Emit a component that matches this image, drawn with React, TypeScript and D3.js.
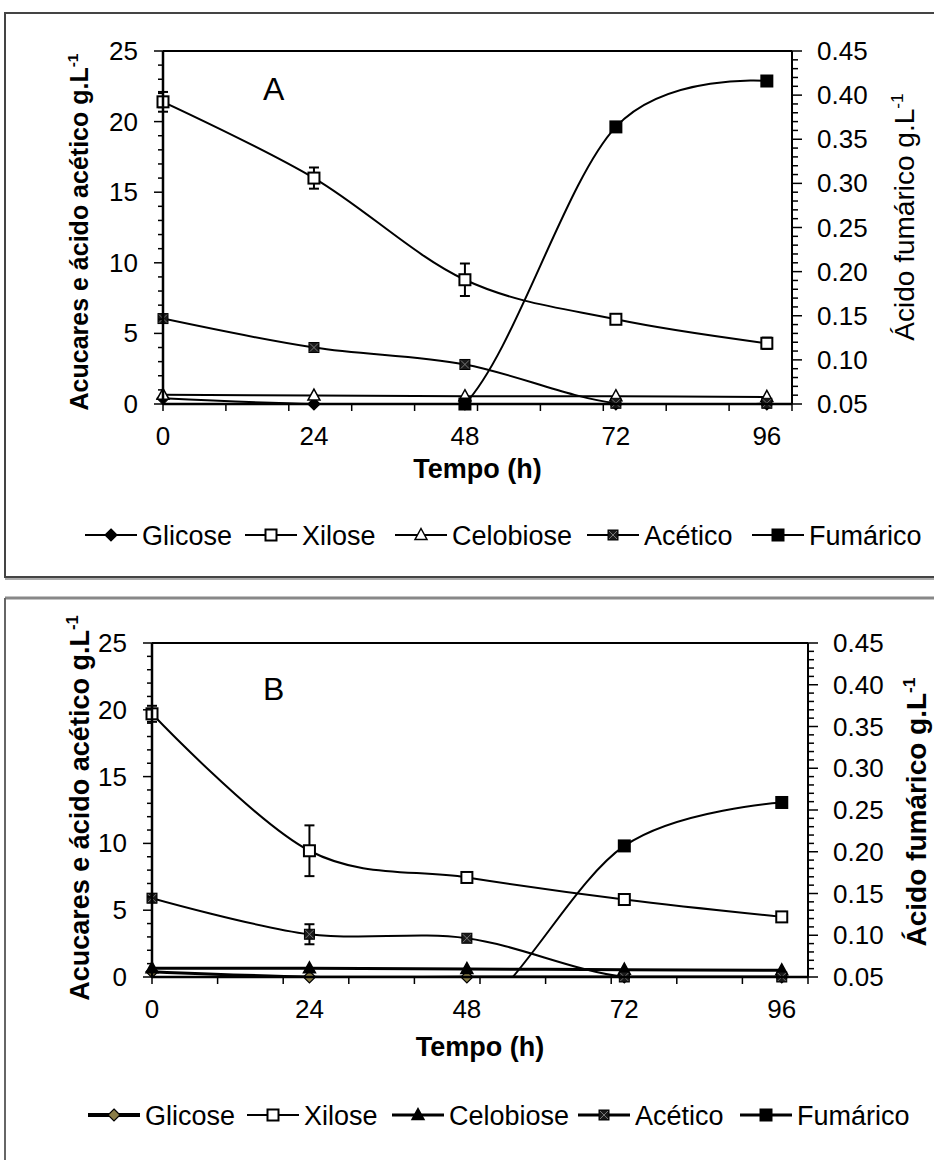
import React from 'react';
import * as d3 from 'd3';

// ---------- data ----------
const times = [0, 24, 48, 72, 96];
const xTickLabels = [0, 24, 48, 72, 96];
const leftTickLabels = [0, 5, 10, 15, 20, 25];
const rightTickLabels = [0.05, 0.1, 0.15, 0.2, 0.25, 0.3, 0.35, 0.4, 0.45];
const seriesNames = ['Glicose', 'Xilose', 'Celobiose', 'Acético', 'Fumárico'];

// Panel A
const glicoseA = [0.4, 0, 0, 0, 0];
const xiloseA = [21.4, 16.0, 8.8, 6.0, 4.3];
const xiloseErrA = [0.7, 0.75, 1.15, 0.2, 0.4];
const celobioseA = [0.65, 0.6, 0.55, 0.55, 0.5];
const aceticoA = [6.05, 4.0, 2.8, 0.05, 0.05];
const aceticoErrA = [0.2, 0.2, 0.3, 0, 0];
const fumaricoA = [0, 0, 0.05, 0.364, 0.416];

// Panel B
const glicoseB = [0.4, 0, 0, 0, 0];
const xiloseB = [19.7, 9.45, 7.45, 5.8, 4.5];
const xiloseErrB = [0.6, 1.9, 0.2, 0.3, 0.2];
const celobioseB = [0.65, 0.65, 0.6, 0.55, 0.5];
const aceticoB = [5.9, 3.2, 2.9, 0, 0];
const aceticoErrB = [0.3, 0.75, 0.2, 0, 0];
const fumaricoB = [0, 0, 0, 0.207, 0.259];

const FONT = '"Liberation Sans", Arial, Helvetica, sans-serif';

type Marker = 'diamond' | 'openSquare' | 'triangle' | 'xSquare' | 'bigSquare';
interface Series {
  name: string;
  values: number[];
  err?: number[];
  axis: 'L' | 'R';
  marker: Marker;
  fill: string;
  width: number;
  legendWidth: number;
}

function drawMarker(type: Marker, cx: number, cy: number, fill: string, key: string) {
  switch (type) {
    case 'diamond':
      return <path key={key} d={`M${cx},${cy - 6}L${cx + 6},${cy}L${cx},${cy + 6}L${cx - 6},${cy}Z`} fill={fill} stroke="#000" strokeWidth={1.2} />;
    case 'openSquare':
      return <rect key={key} x={cx - 5.5} y={cy - 5.5} width={11} height={11} fill="#fff" stroke="#000" strokeWidth={2} />;
    case 'triangle':
      return <path key={key} d={`M${cx},${cy - 6.5}L${cx + 6},${cy + 4.5}L${cx - 6},${cy + 4.5}Z`} fill={fill} stroke="#000" strokeWidth={1.5} />;
    case 'xSquare':
      return (
        <g key={key}>
          <rect x={cx - 5} y={cy - 5} width={10} height={10} fill="#1a1a1a" stroke="#000" strokeWidth={1} />
          <path d={`M${cx - 4},${cy - 4}L${cx + 4},${cy + 4}M${cx + 4},${cy - 4}L${cx - 4},${cy + 4}`} stroke="#777" strokeWidth={1} />
        </g>
      );
    case 'bigSquare':
      return <rect key={key} x={cx - 6.5} y={cy - 6.5} width={13} height={13} fill="#000" />;
  }
}

interface PanelCfg {
  id: string;
  left: number; right: number; top: number; bottom: number;
  letter: string; letterX: number; letterY: number;
  series: Series[];
  leftTitleX: number; leftTitleY: number; leftTitleSize: number;
  rightTitleX: number; rightTitleY: number; rightTitleSize: number; rightTitleBold: boolean;
  tempoY: number;
  legendY: number;
  legendX: number[];
}

function Panel({ cfg }: { cfg: PanelCfg }) {
  const x = d3.scaleLinear().domain([0, 100]).range([cfg.left, cfg.right]);
  const yL = d3.scaleLinear().domain([0, 25]).range([cfg.bottom, cfg.top]);
  const yR = d3.scaleLinear().domain([0.05, 0.45]).range([cfg.bottom, cfg.top]);
  const curve = d3.curveCatmullRom.alpha(0);
  const mkLine = (s: d3.ScaleLinear<number, number>) =>
    d3.line<number>().x((_, i) => x(times[i])).y((d) => s(d)).curve(curve);

  const xMinor = x.ticks(10);
  const yLMinor = d3.range(0, 26, 1);
  const yRMinor = d3.range(5, 46, 1).map((v) => v / 100);

  const clipId = `clip-${cfg.id}`;
  return (
    <g>
      <defs>
        <clipPath id={clipId}>
          <rect x={cfg.left} y={cfg.top} width={cfg.right - cfg.left} height={cfg.bottom - cfg.top + 1} />
        </clipPath>
      </defs>
      {/* plot top border */}
      <line x1={cfg.left} x2={cfg.right} y1={cfg.top} y2={cfg.top} stroke="#000" strokeWidth={2} />
      {/* series */}
      {cfg.series.map((s) => {
        const sc = s.axis === 'L' ? yL : yR;
        return (
          <g key={s.name}>
            <path d={mkLine(sc)(s.values) || ''} fill="none" stroke="#000" strokeWidth={s.width} clipPath={`url(#${clipId})`} />
            {s.err &&
              s.values.map((v, i) =>
                s.err![i] > 0 ? (
                  <g key={`e${i}`} stroke="#000" strokeWidth={2}>
                    <line x1={x(times[i])} x2={x(times[i])} y1={sc(v - s.err![i])} y2={sc(v + s.err![i])} />
                    <line x1={x(times[i]) - 5} x2={x(times[i]) + 5} y1={sc(v - s.err![i])} y2={sc(v - s.err![i])} />
                    <line x1={x(times[i]) - 5} x2={x(times[i]) + 5} y1={sc(v + s.err![i])} y2={sc(v + s.err![i])} />
                  </g>
                ) : null
              )}
            {s.values.map((v, i) =>
              v >= sc.domain()[0] - 1e-9 ? drawMarker(s.marker, x(times[i]), sc(v), s.fill, `m${i}`) : null
            )}
          </g>
        );
      })}
      {/* left axis */}
      <line x1={cfg.left} x2={cfg.left} y1={cfg.top} y2={cfg.bottom} stroke="#000" strokeWidth={2.5} />
      {yLMinor.map((v) => (
        <line key={`lm${v}`} x1={cfg.left - (v % 5 === 0 ? 9 : 5)} x2={cfg.left} y1={yL(v)} y2={yL(v)} stroke="#000" strokeWidth={1.5} />
      ))}
      {leftTickLabels.map((v) => (
        <text key={`lt${v}`} x={cfg.left - 25} y={yL(v) + 9} textAnchor="end" fontSize={26} fontFamily={FONT}>{v}</text>
      ))}
      {/* right axis */}
      <line x1={cfg.right} x2={cfg.right} y1={cfg.top} y2={cfg.bottom} stroke="#000" strokeWidth={2} />
      {yRMinor.map((v, i) => (
        <line key={`rm${i}`} x1={cfg.right} x2={cfg.right + (i % 5 === 0 ? 10 : 6)} y1={yR(v)} y2={yR(v)} stroke="#000" strokeWidth={1.5} />
      ))}
      {rightTickLabels.map((v) => (
        <text key={`rt${v}`} x={cfg.right + 25} y={yR(v) + 9} textAnchor="start" fontSize={26} fontFamily={FONT}>{d3.format('.2f')(v)}</text>
      ))}
      {/* bottom axis */}
      <line x1={cfg.left} x2={cfg.right} y1={cfg.bottom} y2={cfg.bottom} stroke="#000" strokeWidth={2.5} />
      {xMinor.map((v) => (
        <line key={`xm${v}`} x1={x(v)} x2={x(v)} y1={cfg.bottom} y2={cfg.bottom + 7} stroke="#000" strokeWidth={1.5} />
      ))}
      {xTickLabels.map((v) => (
        <text key={`xt${v}`} x={x(v)} y={cfg.bottom + 41} textAnchor="middle" fontSize={26} fontFamily={FONT}>{v}</text>
      ))}
      {/* letter */}
      <text x={cfg.letterX} y={cfg.letterY} fontSize={32} fontFamily={FONT}>{cfg.letter}</text>
      {/* titles */}
      <text transform={`translate(${cfg.leftTitleX},${cfg.leftTitleY}) rotate(-90)`} textAnchor="middle" fontSize={cfg.leftTitleSize} fontWeight="bold" fontFamily={FONT}>
        Acucares e ácido acético g.L<tspan fontSize={cfg.leftTitleSize * 0.62} dy={-cfg.leftTitleSize * 0.4}>-1</tspan>
      </text>
      <text transform={`translate(${cfg.rightTitleX},${cfg.rightTitleY}) rotate(-90)`} textAnchor="middle" fontSize={cfg.rightTitleSize} fontWeight={cfg.rightTitleBold ? 'bold' : 'normal'} fontFamily={FONT}>
        Ácido fumárico g.L<tspan fontSize={cfg.rightTitleSize * 0.62} dy={-cfg.rightTitleSize * 0.4}>-1</tspan>
      </text>
      <text x={(cfg.left + cfg.right) / 2} y={cfg.tempoY} textAnchor="middle" fontSize={27} fontWeight="bold" fontFamily={FONT}>Tempo (h)</text>
      {/* legend */}
      {cfg.series.map((s, i) => {
        const lx = cfg.legendX[i];
        return (
          <g key={`lg${i}`}>
            <line x1={lx} x2={lx + 52} y1={cfg.legendY} y2={cfg.legendY} stroke="#000" strokeWidth={s.legendWidth} />
            {drawMarker(s.marker, lx + 26, cfg.legendY, s.fill, 'lm')}
            <text x={lx + 57} y={cfg.legendY + 9.5} fontSize={27} fontFamily={FONT}>{s.name}</text>
          </g>
        );
      })}
    </g>
  );
}

const seriesA: Series[] = [
  { name: seriesNames[0], values: glicoseA, axis: 'L', marker: 'diamond', fill: '#000', width: 2, legendWidth: 2 },
  { name: seriesNames[1], values: xiloseA, err: xiloseErrA, axis: 'L', marker: 'openSquare', fill: '#fff', width: 2, legendWidth: 2 },
  { name: seriesNames[2], values: celobioseA, axis: 'L', marker: 'triangle', fill: '#fff', width: 2, legendWidth: 2 },
  { name: seriesNames[3], values: aceticoA, err: aceticoErrA, axis: 'L', marker: 'xSquare', fill: '#000', width: 2, legendWidth: 2 },
  { name: seriesNames[4], values: fumaricoA, axis: 'R', marker: 'bigSquare', fill: '#000', width: 2, legendWidth: 2 },
];
const seriesB: Series[] = [
  { name: seriesNames[0], values: glicoseB, axis: 'L', marker: 'diamond', fill: '#8a7d48', width: 3, legendWidth: 4 },
  { name: seriesNames[1], values: xiloseB, err: xiloseErrB, axis: 'L', marker: 'openSquare', fill: '#fff', width: 2, legendWidth: 2 },
  { name: seriesNames[2], values: celobioseB, axis: 'L', marker: 'triangle', fill: '#000', width: 3, legendWidth: 3 },
  { name: seriesNames[3], values: aceticoB, err: aceticoErrB, axis: 'L', marker: 'xSquare', fill: '#000', width: 2, legendWidth: 3 },
  { name: seriesNames[4], values: fumaricoB, axis: 'R', marker: 'bigSquare', fill: '#000', width: 2, legendWidth: 3 },
];

const cfgA: PanelCfg = {
  id: 'A', left: 163, right: 792, top: 51, bottom: 404,
  letter: 'A', letterX: 263, letterY: 100,
  series: seriesA,
  leftTitleX: 88, leftTitleY: 232, leftTitleSize: 25,
  rightTitleX: 914, rightTitleY: 217, rightTitleSize: 28, rightTitleBold: false,
  tempoY: 478, legendY: 535, legendX: [85, 245, 395, 587, 752],
};
const cfgB: PanelCfg = {
  id: 'B', left: 152, right: 808, top: 643, bottom: 977,
  letter: 'B', letterX: 263, letterY: 700,
  series: seriesB,
  leftTitleX: 89, leftTitleY: 808, leftTitleSize: 27,
  rightTitleX: 926, rightTitleY: 812, rightTitleSize: 28, rightTitleBold: true,
  tempoY: 1056, legendY: 1115, legendX: [88, 247, 392, 578, 740],
};

export default function App() {
  return (
    <svg width={934} height={1160} style={{ position: 'absolute', left: 0, top: 0, background: '#fff' }}>
      <rect x={0} y={0} width={934} height={1160} fill="#fff" />
      {/* panel frames */}
      <rect x={5} y={13} width={960} height={564} fill="none" stroke="#444" strokeWidth={2} />
      <line x1={5} x2={934} y1={579} y2={579} stroke="#aaa" strokeWidth={2} />
      <line x1={5} x2={934} y1={598} y2={598} stroke="#888" strokeWidth={3} />
      <line x1={5} x2={5} y1={598} y2={1160} stroke="#666" strokeWidth={2} />
      <Panel cfg={cfgA} />
      <Panel cfg={cfgB} />
    </svg>
  );
}
